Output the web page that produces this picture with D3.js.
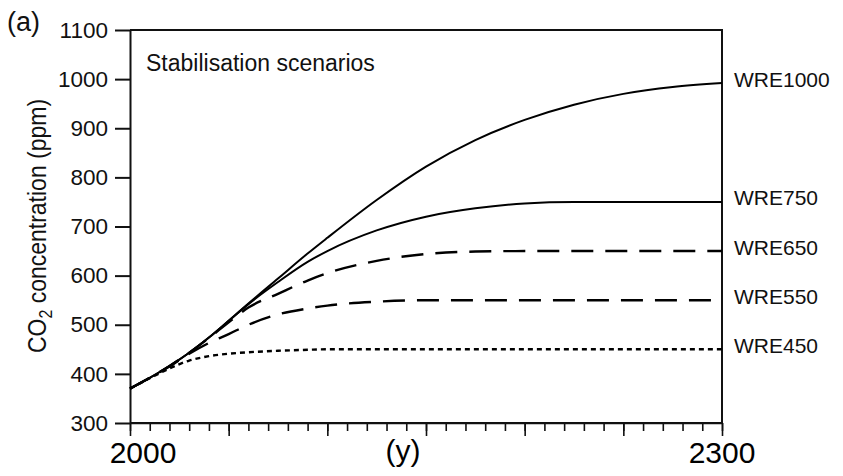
<!DOCTYPE html>
<html>
<head>
<meta charset="utf-8">
<script src="https://cdn.jsdelivr.net/npm/d3@7"></script>
<style>
  html, body { margin: 0; padding: 0; background: #fff; }
  svg { display: block; font-family: "Liberation Sans", Arial, Helvetica, sans-serif; }
</style>
</head>
<body>
<svg id="chart" width="843" height="476"></svg>
<script>
// CO2 stabilisation pathways (ppm), sampled at the years below
const years   = [2000, 2010, 2020, 2030, 2040, 2050, 2060, 2075, 2090, 2100, 2125, 2150, 2175, 2200, 2225, 2250, 2275, 2300];
const wre1000 = [370, 392, 416, 443, 474, 508, 543, 594, 645, 677, 754, 822, 876, 917, 948, 970, 984, 992];
const wre750  = [370, 392, 416, 443, 474, 508, 542, 587, 628, 650, 692, 720, 737, 747, 750, 750, 750, 750];
const wre650  = [370, 392, 416, 443, 473, 505, 535, 563, 590, 605, 630, 644, 649, 650, 650, 650, 650, 650];
const wre550  = [370, 392, 415, 441, 463, 481, 500, 521, 533, 539, 547, 550, 550, 550, 550, 550, 550, 550];
const wre450  = [370, 391, 411, 427, 436, 441, 444, 447, 449, 450, 450, 450, 450, 450, 450, 450, 450, 450];

const seriesNames = ["WRE1000", "WRE750", "WRE650", "WRE550", "WRE450"];
const seriesValues = [wre1000, wre750, wre650, wre550, wre450];

const yTicks = [300, 400, 500, 600, 700, 800, 900, 1000, 1100];
const xMinorTicks = d3.range(2000, 2301, 10);
const xMajorTicks = d3.range(2000, 2301, 50);
const xTickLabels = ["2000", "2300"];
const xAxisTitle = "(y)";
const yAxisTitle = ["CO", "2", " concentration (ppm)"];
const panelLabel = "(a)";
const panelTitle = "Stabilisation scenarios";

const svg = d3.select("#chart");
const ink = "#111";

const x = d3.scaleLinear().domain([2000, 2300]).range([130, 722]);
const y = d3.scaleLinear().domain([300, 1100]).range([423, 30]);

// line style per scenario
const styles = {
  WRE1000: { dash: null,    width: 2 },
  WRE750:  { dash: null,    width: 2 },
  WRE650:  { dash: "22,12", width: 2.4 },
  WRE550:  { dash: "22,12", width: 2.4 },
  WRE450:  { dash: "5,4",   width: 2.4 }
};

// frame (top, right, bottom)
const [x0, x1] = x.range();
const [yb, yt] = y.range();
svg.append("path")
  .attr("d", `M${x0},${yt}H${x1}V${yb}H${x0}`)
  .attr("fill", "none").attr("stroke", ink).attr("stroke-width", 2);

// left axis
const gy = svg.append("g")
  .attr("transform", `translate(${x0},0)`)
  .call(d3.axisLeft(y).tickValues(yTicks).tickSize(15).tickSizeOuter(0).tickPadding(7).tickFormat(d3.format("d")));
gy.attr("font-family", null).attr("font-size", 22.5).attr("color", ink);
gy.selectAll("path, line").attr("stroke-width", 2);
gy.selectAll("text").attr("fill", ink);

// bottom axis: minor and major ticks
const gxMinor = svg.append("g")
  .attr("transform", `translate(0,${yb})`)
  .call(d3.axisBottom(x).tickValues(xMinorTicks).tickSize(8).tickSizeOuter(0).tickFormat(""));
gxMinor.attr("color", ink);
gxMinor.selectAll("path, line").attr("stroke-width", 1.6);

const gxMajor = svg.append("g")
  .attr("transform", `translate(0,${yb})`)
  .call(d3.axisBottom(x).tickValues(xMajorTicks).tickSize(13).tickSizeOuter(0).tickFormat(""));
gxMajor.attr("color", ink);
gxMajor.select(".domain").remove();
gxMajor.selectAll("line").attr("stroke-width", 1.6);

// x tick labels and axis title
svg.append("text")
  .attr("x", x(+xTickLabels[0]) + 13).attr("y", 463)
  .attr("text-anchor", "middle").attr("font-size", 30).attr("fill", "#000")
  .text(xTickLabels[0]);
svg.append("text")
  .attr("x", x(+xTickLabels[1])).attr("y", 463)
  .attr("text-anchor", "middle").attr("font-size", 30).attr("fill", "#000")
  .text(xTickLabels[1]);
svg.append("text")
  .attr("x", x(2150) - 23).attr("y", 461)
  .attr("text-anchor", "middle").attr("font-size", 30).attr("fill", "#000")
  .text(xAxisTitle);

// y axis title with subscript
const yTitle = svg.append("text")
  .attr("transform", `translate(46,226) rotate(-90) scale(1,1.15)`)
  .attr("text-anchor", "middle").attr("font-size", 23).attr("fill", ink);
yTitle.append("tspan").text(yAxisTitle[0]);
yTitle.append("tspan").attr("font-size", 16).attr("dy", 5).text(yAxisTitle[1]);
yTitle.append("tspan").attr("dy", -5).text(yAxisTitle[2]);

// panel label and title
svg.append("text").attr("x", 7).attr("y", 31)
  .attr("font-size", 27).attr("fill", ink).text(panelLabel);
svg.append("text").attr("x", 146).attr("y", 71)
  .attr("font-size", 23).attr("fill", ink).text(panelTitle);

// scenario curves
const line = d3.line()
  .x(d => x(d.year))
  .y(d => y(d.v))
  .curve(d3.curveMonotoneX);

seriesNames.forEach((name, i) => {
  const pts = years.map((yr, j) => ({ year: yr, v: seriesValues[i][j] }));
  const st = styles[name];
  svg.append("path")
    .datum(pts)
    .attr("d", line)
    .attr("fill", "none")
    .attr("stroke", "#000")
    .attr("stroke-width", st.width)
    .attr("stroke-dasharray", st.dash);

  const last = pts[pts.length - 1];
  svg.append("text")
    .attr("x", x(last.year) + 12)
    .attr("y", y(last.v) - 4)
    .attr("dominant-baseline", "central")
    .attr("font-size", 21)
    .attr("fill", ink)
    .text(name);
});
</script>
</body>
</html>
